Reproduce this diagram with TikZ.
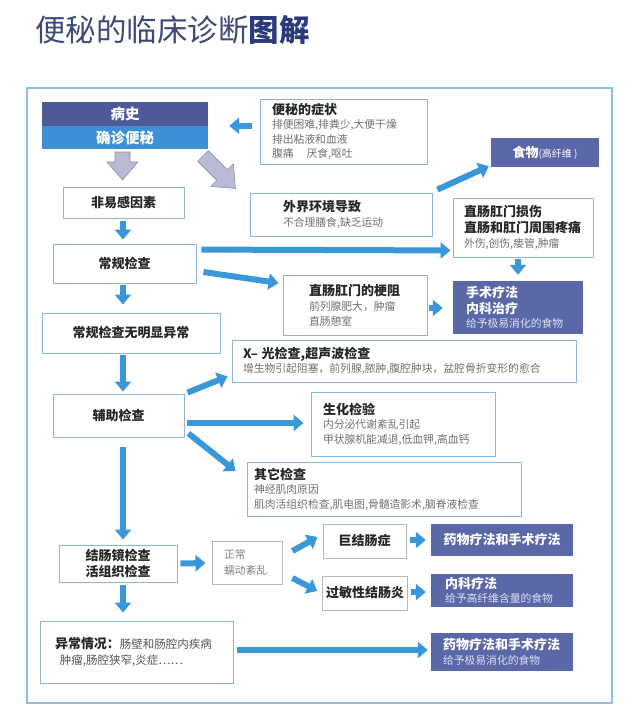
\documentclass[tikz,border=0pt]{standalone}
\usepackage{fontspec}
\newfontfamily\cjk{Noto Sans CJK SC}
\usetikzlibrary{arrows.meta,calc}
\definecolor{arrowblue}{HTML}{3A98DA}
\definecolor{boxblue}{HTML}{8DB4DC}
\definecolor{boxgray}{HTML}{B4B6C0}
\definecolor{slate}{HTML}{5A68A8}
\definecolor{slatedark}{HTML}{4E5A98}
\definecolor{qzblue}{HTML}{3D90D6}
\definecolor{dtext}{HTML}{262626}
\definecolor{gtext}{HTML}{707070}
\definecolor{mtext}{HTML}{555555}
\definecolor{ltext}{HTML}{DCE0F2}
\definecolor{titlec}{HTML}{3E4977}
\definecolor{titleb}{HTML}{2C3A7C}
\definecolor{framec}{HTML}{8EBDE6}
\definecolor{blockfill}{HTML}{B9BAD6}
\definecolor{blockdraw}{HTML}{8E90AA}
\definecolor{mauve}{HTML}{8A7C88}
\newcommand\hdx{\fontsize{13}{14.5}\selectfont\bfseries\color{dtext}}
\newcommand\wbx{\fontsize{13}{14.5}\selectfont\bfseries\color{white}}
\begin{document}
\begin{tikzpicture}[x=1pt,y=-1pt,
  bx/.style={draw=boxblue, line width=0.9pt, fill=white, inner ysep=0pt, font=\cjk\fontsize{10.8}{14.5}\selectfont, text=gtext},
  cbx/.style={bx, align=center, text=dtext, font=\cjk\fontsize{13}{16}\selectfont\bfseries},
  sbx/.style={fill=slate, inner ysep=0pt, font=\cjk\fontsize{10.8}{14.5}\selectfont, text=ltext},
  barrow/.style={draw=arrowblue, line width=6pt, -{Triangle[length=10pt,width=16pt]}},
  blk/.style={fill=blockfill, draw=blockdraw, line width=0.6pt}]

\useasboundingbox (0,0) rectangle (640,721);
\fill[white] (0,0) rectangle (640,721);

\node[anchor=base west, inner sep=0pt, font=\cjk\fontsize{30.5}{34}\selectfont] (title) at (35,41.5) {\color{titlec}便秘的临床诊断\textbf{\color{titleb}图解}};

\draw[framec, line width=1.2pt] (27,88) rectangle (612,703);

% top-left
\node[fill=slatedark, minimum width=166pt, minimum height=24pt, inner sep=0pt, text=white, font=\cjk\fontsize{14.5}{16}\selectfont\bfseries] (bs) at (125,114) {病史};
\node[fill=qzblue, minimum width=166pt, minimum height=23pt, inner sep=0pt, text=white, font=\cjk\fontsize{14.5}{16}\selectfont\bfseries] (qz) at (125,137.5) {确诊便秘};

\node[bx, minimum width=167pt, minimum height=65pt, inner xsep=12pt, text width=143pt, align=left] (zz) at (343.5,131.5)
  {{\hdx 便秘的症状}\\排便困难,排粪少,大便干燥\\排出粘液和血液\\\mbox{腹痛\hspace{1.2em}厌食,呕吐}};

\node[sbx, minimum width=108pt, minimum height=29pt, text=white] (sw) at (545,152.5)
  {{\fontsize{13}{14}\selectfont\bfseries 食物}{\fontsize{10}{12}\selectfont(高纤维 )}};

\node[cbx, minimum width=121pt, minimum height=31pt] (fy) at (123.5,202.5) {非易感因素};

\node[bx, minimum width=182pt, minimum height=43pt, inner xsep=33pt, text width=116pt, align=left] (ws) at (341,214.5)
  {{\hdx 外界环境导致}\\不合理膳食,缺乏运动};

\node[bx, minimum width=140pt, minimum height=59pt, inner xsep=11pt, text width=118pt, align=left] (ss) at (523,227.5)
  {{\hdx 直肠肛门损伤}\\[1.5pt]{\hdx 直肠和肛门周围疼痛}\\外伤,创伤,瘘管,肿瘤};

\node[cbx, minimum width=143pt, minimum height=39pt] (cg) at (124.5,263.5) {常规检查};

\node[bx, minimum width=144pt, minimum height=60pt, inner xsep=26pt, text width=92pt, align=left] (gz) at (355,305)
  {{\hdx 直肠肛门的梗阻}\\[1pt]前列腺肥大，肿瘤\\直肠憩室};

\node[sbx, minimum width=130pt, minimum height=53pt, inner xsep=13pt, text width=104pt, align=left] (sh) at (518,307.5)
  {{\wbx 手术疗法}\\[1pt]{\wbx 内科治疗}\\给予极易消化的食物};

\node[cbx, minimum width=178pt, minimum height=40pt] (wy) at (131,333) {常规检查无明显异常};

\node[bx, minimum width=344pt, minimum height=42pt, inner xsep=11pt, text width=322pt, align=left] (xg) at (404,361)
  {{\hdx X–~光检查,超声波检查}\\增生物引起阻塞，前列腺,脓肿,腹腔肿块，盆腔骨折变形的愈合};

\node[cbx, minimum width=131pt, minimum height=43pt] (fz) at (118.5,415.5) {辅助检查};

\node[bx, minimum width=184pt, minimum height=64pt, inner xsep=12pt, text width=160pt, align=left] (shy) at (403,424)
  {{\hdx 生化检验}\\内分泌代谢紊乱引起\\甲状腺机能减退,低血钾,高血钙};

\node[bx, minimum width=274pt, minimum height=54pt, inner xsep=7pt, text width=260pt, align=left] (qt) at (384,489)
  {{\hdx 其它检查}\\神经肌肉原因\\肌肉活组织检查,肌电图,骨髓造影术,脑脊液检查};

\node[cbx, minimum width=118pt, minimum height=37pt] (jc) at (118,563.5) {结肠镜检查\\活组织检查};

\node[bx, draw=boxgray, minimum width=70pt, minimum height=43pt, inner xsep=12pt, text width=46pt, align=left, text=mauve, font=\cjk\fontsize{10.8}{16}\selectfont] (zc) at (247,562.5)
  {正常\\蠕动紊乱};

\node[cbx, draw=boxgray, minimum width=83pt, minimum height=34pt] (jj) at (364.5,541) {巨结肠症};
\node[cbx, draw=boxgray, minimum width=84pt, minimum height=34pt] (gm) at (365,593) {过敏性结肠炎};

\node[sbx, minimum width=142pt, minimum height=32pt, text=white, font=\cjk\fontsize{13}{14.5}\selectfont\bfseries] (y1) at (502,540) {药物疗法和手术疗法};

\node[sbx, minimum width=142pt, minimum height=33pt, inner xsep=14pt, text width=114pt, align=left] (nk) at (502,590.5)
  {{\wbx 内科疗法}\\给予高纤维含量的食物};

\node[bx, minimum width=193pt, minimum height=62pt, inner xsep=15pt, text width=163pt, align=left, text=mtext, font=\cjk\fontsize{11.5}{16}\selectfont] (yc) at (136.5,652)
  {{\hdx 异常情况：}肠壁和肠腔内疾病\\\hspace*{5pt}肿瘤,肠腔狭窄,炎症……};

\node[sbx, minimum width=142pt, minimum height=38pt, inner xsep=12pt, text width=118pt, align=left] (y2) at (502,652)
  {{\wbx 药物疗法和手术疗法}\\给予极易消化的食物};

% gray block arrows
\filldraw[blk] (115,152) -- (130,152) -- (130,162) -- (138,162) -- (122.5,180) -- (107,162) -- (115,162) -- cycle;
\filldraw[blk] (208.3,150.7) -- (227.4,169.8) -- (233.4,163.8) -- (235.5,188.5) -- (210.8,186.4) -- (216.8,180.4) -- (197.7,161.3) -- cycle;

% blue arrows
\coordinate (vx) at (123,0);
\draw[barrow, shorten <=3pt, shorten >=4pt] (fy.south -| vx) -- (cg.north -| vx);
\draw[barrow, shorten <=2pt, shorten >=8pt] (cg.south -| vx) -- (wy.north -| vx);
\draw[barrow, shorten <=2pt, shorten >=2pt] (wy.south -| vx) -- (fz.north -| vx);
\draw[barrow, shorten <=10pt, shorten >=5pt] (fz.south -| vx) -- (jc.north -| vx);
\draw[barrow, shorten <=3pt, shorten >=8pt] (jc.south -| vx) -- (yc.north -| vx);

\draw[barrow, shorten <=8pt, shorten >=21pt] (zz.west |- qz.north) -- (qz.north east);
\draw[barrow, shorten <=5pt, shorten >=2pt] ($(cg.north east)+(0,6)$) -- ($(ss.south west)+(0,-7)$);
\draw[barrow] ($(ws.north east)+(5,-3)$) -- ($(sw.south west)+(-2,-1)$);
\draw[barrow, shorten <=2pt, shorten >=6pt] (ss.south -| sh.north) -- (sh.north);
\draw[barrow] ($(cg.east)+(7,8.5)$) -- ($(gz.west)+(-4,-22)$);
\draw[barrow] ($(gz.east)+(2,3)$) -- ($(sh.west)+(-10,0.5)$);
\draw[barrow] ($(fz.north east)+(3,-1)$) -- ($(xg.south west)+(-4,-6)$);
\draw[barrow] ($(fz.east)+(3,7.5)$) -- ($(shy.west)+(-7,-1)$);
\draw[barrow] ($(fz.south east)+(4,-4)$) -- ($(qt.west)+(-11,-18)$);
\draw[barrow] ($(jc.east)+(3,0)$) -- ($(zc.west)+(-6,0.5)$);
\draw[barrow] ($(zc.east)+(10,-11.5)$) -- ($(jj.west)+(-5,-4)$);
\draw[barrow] ($(zc.east)+(10,15.5)$) -- ($(gm.west)+(-5,-2)$);
\draw[barrow] ($(jj.east)+(4,-1)$) -- ($(y1.west)+(-5,0)$);
\draw[barrow] ($(gm.east)+(3,-1)$) -- ($(nk.west)+(-5,1.5)$);
\draw[barrow] ($(yc.east)+(4,-2)$) -- ($(y2.west)+(-3,-2)$);
\end{tikzpicture}
\end{document}
